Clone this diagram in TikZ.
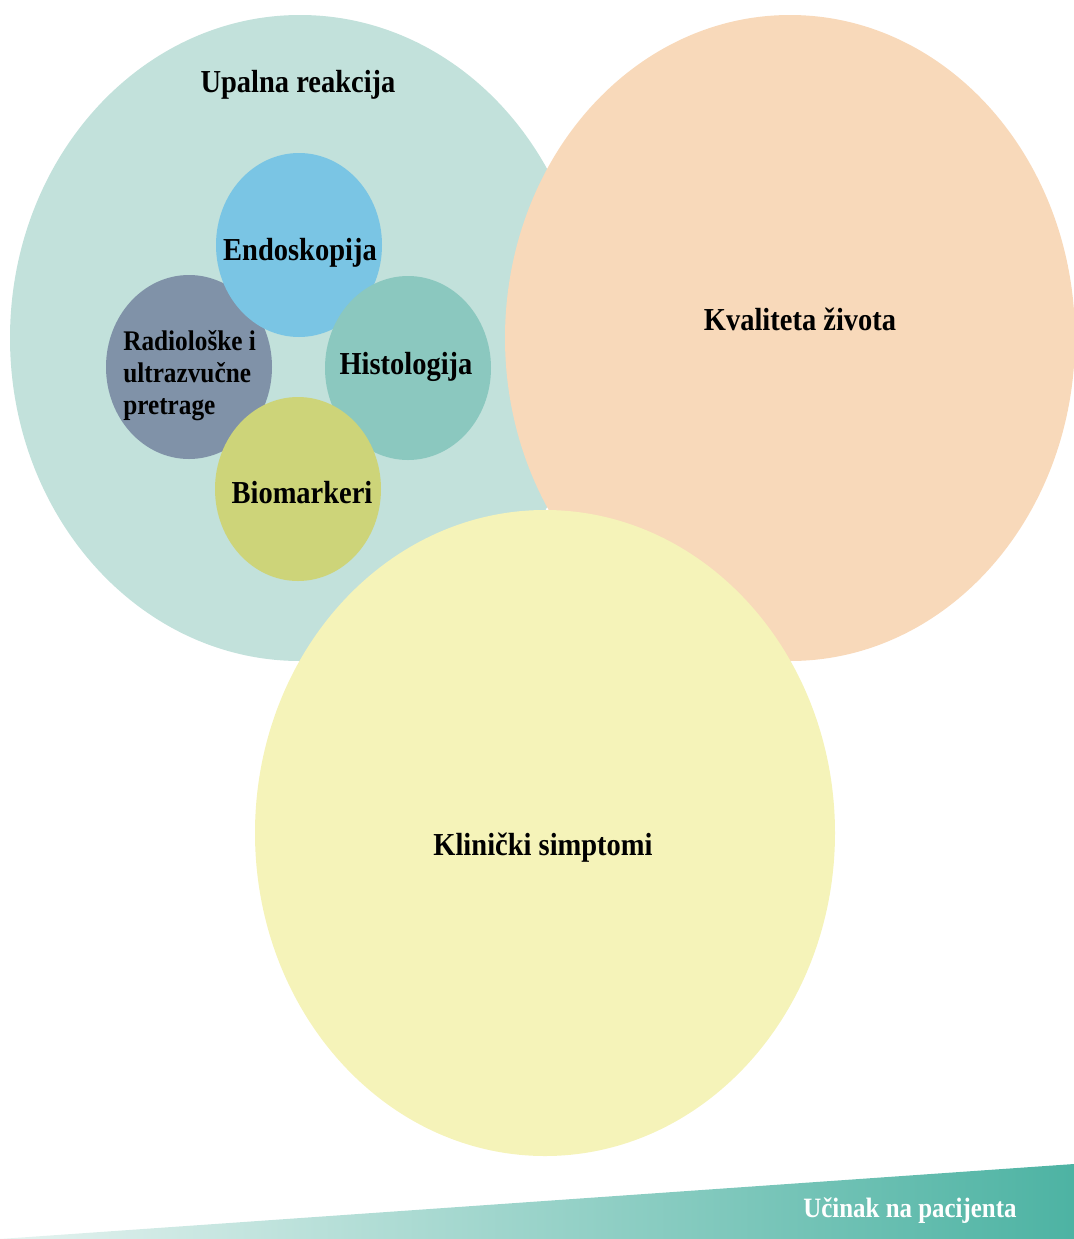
\documentclass[tikz,border=0pt]{standalone}
\usepackage{fontspec}
\setmainfont{Liberation Serif}[FakeStretch=0.89]
\usetikzlibrary{shapes.geometric}
\definecolor{cteal}{HTML}{C2E1DB}
\definecolor{corange}{HTML}{F8D9BA}
\definecolor{cyellow}{HTML}{F5F3B9}
\definecolor{cendo}{HTML}{7AC5E4}
\definecolor{cradio}{HTML}{8092A8}
\definecolor{chisto}{HTML}{8BC8BF}
\definecolor{cbio}{HTML}{CDD479}
\definecolor{cbarR}{HTML}{4DB3A3}
\definecolor{cbarL}{HTML}{E6F3F0}
\tikzset{
  bigell/.style={ellipse, inner sep=0pt, minimum width=#1, minimum height=484.5pt},
  smallell/.style={ellipse, inner sep=0pt, minimum width=124.5pt, minimum height=138pt},
  bigtxt/.style={font=\fontsize{24pt}{27pt}\selectfont\bfseries, inner sep=0pt},
  smalltxt/.style={font=\fontsize{21.3pt}{24pt}\selectfont\bfseries, inner sep=0pt},
  bartxt/.style={font=\fontsize{21pt}{24pt}\selectfont\bfseries, text=white, inner sep=0pt}
}
\begin{document}
\begin{tikzpicture}[x=0.75pt,y=-0.75pt]
\useasboundingbox (0,0) rectangle (1074,1239);
\clip (0,0) rectangle (1074,1239);
% big ellipses
\node[bigell=435pt, fill=cteal] (upalna) at (300,338) {};
\node[bigell=427.5pt, fill=corange] (kval) at (790,338) {};
\node[bigell=435pt, fill=cyellow] (klin) at (545,833) {};
% small circles
\node[smallell, fill=cradio] (radio) at (189,367) {};
\node[smallell, fill=cendo] (endo) at (299,245) {};
\node[smallell, fill=chisto] (histo) at (408,368) {};
\node[smallell, fill=cbio] (bio) at (298,489) {};
% labels
\node[bigtxt] (tupalna) at (298,85) {Upalna reakcija};
\node[bigtxt] (tkval) at (800,319) {Kvaliteta života};
\node[bigtxt] (tklin) at (543,848) {Klinički simptomi};
\node[bigtxt] (tendo) at (300,253) {Endoskopija};
\node[bigtxt] (thisto) at (406,367) {Histologija};
\node[bigtxt] (tbio) at (302,493) {Biomarkeri};
\node[smalltxt, anchor=west, align=left] (tradio) at (123,376) {Radiološke i\\ultrazvučne\\pretrage};
% bottom bar
\shade[left color=cbarL, right color=cbarR] (0,1239) -- (1074,1164) -- (1074,1239) -- cycle;
\node[bartxt] (tbar) at (910,1211) {Učinak na pacijenta};
\end{tikzpicture}
\end{document}
